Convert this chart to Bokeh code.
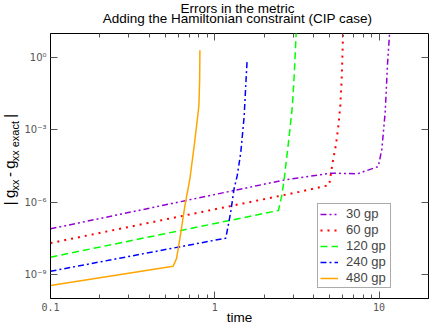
import numpy as np
from bokeh.plotting import figure
from bokeh.layouts import column, row
from bokeh.models import LogAxis, FixedTicker, CustomJSTickFormatter
from bokeh.core.properties import value
from bokeh.embed import file_html
from bokeh.resources import INLINE

# ---------------- data ----------------
series_labels = ["30 gp", "60 gp", "120 gp", "240 gp", "480 gp"]

time_30 = [0.1, 2.65, 5.1, 7.38, 9.9, 10.4, 10.9, 11.27, 11.6, 11.7]
err_30 = [7.8e-8, 8.3e-6, 1.6e-5, 1.5e-5, 3.0e-5, 1.6e-4, 5.4e-3, 0.60, 10.7, 30.0]

time_60 = [0.1, 3.22, 4.97, 5.22, 5.47, 5.65, 5.81, 5.92, 6.0, 6.06]
err_60 = [2.0e-8, 2.6e-6, 5.1e-6, 4.5e-5, 2.5e-4, 1.4e-3, 9.8e-3, 0.12, 2.1, 30.0]

time_120 = [0.1, 2.44, 2.56, 2.65, 2.81, 2.97, 3.05, 3.11, 3.15]
err_120 = [5.2e-9, 4.5e-7, 1.9e-6, 1.0e-5, 3.0e-4, 9.8e-3, 0.23, 4.1, 30.0]

time_240 = [0.1, 1.167, 1.25, 1.31, 1.37, 1.44, 1.51, 1.55, 1.575]
err_240 = [1.35e-9, 3.2e-8, 3.8e-7, 3.5e-6, 1.26e-5, 1.15e-4, 3.7e-3, 0.12, 0.83]

time_480 = [0.1, 0.558, 0.585, 0.613, 0.658, 0.705, 0.745, 0.779, 0.800, 0.809, 0.812]
err_480 = [3.5e-10, 2.2e-9, 4.5e-9, 3.0e-8, 7.2e-7, 9.1e-6, 1.6e-4, 2.0e-3, 9.8e-3, 0.12, 2.0]

x_ticks = [0.1, 1, 10]
x_tick_labels = ["0.1", "1", "10"]
x_minor = [0.2, 0.3, 0.4, 0.5, 0.6, 0.7, 0.8, 0.9, 2, 3, 4, 5, 6, 7, 8, 9]
y_ticks = [1e-9, 1e-6, 1e-3, 1.0]
y_tick_labels = ["10\u207b\u2079", "10\u207b\u2076", "10\u207b\u00b3", "10\u2070"]

title_lines = ["Errors in the metric", "Adding the Hamiltonian constraint (CIP case)"]
x_label = "time"
y_label_pieces = ["|", "g", "xx", "-", "g", "xx exact", "|"]

FONT = "Liberation Sans"
MID = 0.3465   # (ascent - descent) / 2, in em, for Liberation Sans

# ---------------- helper: plain text strip ----------------
def text_fig(w, h):
    f = figure(width=w, height=h, x_range=(0, w), y_range=(0, h),
               output_backend="svg", toolbar_location=None, min_border=0,
               x_axis_location=None, y_axis_location=None,
               background_fill_color="white", border_fill_color="white")
    f.outline_line_color = None
    f.xgrid.visible = False
    f.ygrid.visible = False
    return f

# ---------------- title strip (430 x 33) ----------------
TS = 13.5
top_fig = text_fig(430, 33)
baselines = [12.5, 23.0]               # page y of the two title baselines
top_fig.text(x=[237, 237], y=[33 - (b - MID * TS) for b in baselines], text=title_lines,
             text_font=value(FONT), text_font_size=value(f"{TS}px"),
             text_align=value("center"), text_baseline=value("middle"),
             text_color="black")

# ---------------- main plot (409 x 294) ----------------
p = figure(width=409, height=294,
           x_axis_type="log", y_axis_type="log",
           x_range=(0.1, 20), y_range=(1e-10, 10),
           output_backend="svg", toolbar_location=None,
           min_border_left=25, min_border_right=2,
           min_border_top=0, min_border_bottom=27,
           background_fill_color="white", border_fill_color="white")
p.xgrid.visible = False
p.ygrid.visible = False
p.outline_line_color = "black"
p.outline_line_width = 1

tick_col = "#555555"
lab_col = "#555555"

xfmt = CustomJSTickFormatter(args=dict(tv=x_ticks, tl=x_tick_labels), code="""
const i = tv.findIndex(v => Math.abs(Math.log10(v) - Math.log10(tick)) < 1e-6);
return i < 0 ? "" : tl[i];
""")
yfmt = CustomJSTickFormatter(args=dict(tv=y_ticks, tl=y_tick_labels), code="""
const i = tv.findIndex(v => Math.abs(Math.log10(v) - Math.log10(tick)) < 1e-6);
return i < 0 ? "" : tl[i];
""")
blank = CustomJSTickFormatter(code='return "";')

xa = p.xaxis[0]
xa.ticker = FixedTicker(ticks=x_ticks, minor_ticks=x_minor)
xa.formatter = xfmt
ya = p.yaxis[0]
ya.ticker = FixedTicker(ticks=y_ticks, minor_ticks=[])
ya.formatter = yfmt

for ax in (xa, ya):
    ax.axis_line_color = "black"
    ax.major_tick_in = 7
    ax.major_tick_out = 0
    ax.minor_tick_in = 4
    ax.minor_tick_out = 0
    ax.major_tick_line_color = tick_col
    ax.minor_tick_line_color = tick_col
    ax.major_label_text_color = lab_col
    ax.major_label_text_font_size = "10px"
    ax.major_label_standoff = 4

xa.major_label_text_font = "DejaVu Sans Mono"
ya.major_label_text_font = "DejaVu Sans"
xa.axis_label = x_label
xa.axis_label_text_font = FONT
xa.axis_label_text_font_size = "13.5px"
xa.axis_label_text_font_style = "normal"
xa.axis_label_text_color = "black"
xa.axis_label_standoff = -4

# mirrored ticks on top and right
top = LogAxis(ticker=FixedTicker(ticks=x_ticks, minor_ticks=x_minor), formatter=blank)
right = LogAxis(ticker=FixedTicker(ticks=y_ticks, minor_ticks=[]), formatter=blank)
for ax in (top, right):
    ax.axis_line_color = None
    ax.major_tick_in = 7
    ax.major_tick_out = 0
    ax.minor_tick_in = 4
    ax.minor_tick_out = 0
    ax.major_tick_line_color = tick_col
    ax.minor_tick_line_color = tick_col
    ax.major_label_text_font_size = "0px"
    ax.major_label_standoff = 0
p.add_layout(top, "above")
p.add_layout(right, "right")

# ---------------- curves ----------------
p.line(time_30, err_30, color="#9400D3", line_width=1.5,
       line_dash="6 3 2 3 2 3", legend_label=series_labels[0])
p.line(time_60, err_60, color="#FF0000", line_width=2,
       line_dash="2 5", legend_label=series_labels[1])
p.line(time_120, err_120, color="#00FF00", line_width=1.5,
       line_dash="7 4", legend_label=series_labels[2])
p.line(time_240, err_240, color="#0000FF", line_width=1.5,
       line_dash="6 3 2 3", legend_label=series_labels[3])
p.line(time_480, err_480, color="#FFA500", line_width=1.5,
       legend_label=series_labels[4])

# ---------------- legend ----------------
lg = p.legend[0]
lg.location = (267, 10)
lg.margin = 0
lg.padding = 2
lg.spacing = 1
lg.glyph_width = 18
lg.glyph_height = 14
lg.label_height = 14
lg.label_width = 42
lg.label_standoff = 8
lg.label_text_font = FONT
lg.label_text_font_size = "13px"
lg.label_text_baseline = "middle"
lg.border_line_color = "#555555"
lg.border_line_width = 1
lg.background_fill_color = "white"
lg.background_fill_alpha = 1.0

# ---------------- y-label strip (21 x 294) ----------------
left_fig = text_fig(21, 294)
em = {'|': 0.26, ' ': 0.278, 'g': 0.556, 'x': 0.5, '-': 0.333,
      'e': 0.556, 'a': 0.556, 'c': 0.5, 't': 0.278}
def tw(s, size):
    return sum(em[c] for c in s) * size

sizes = [15, 15, 11, 15, 15, 11, 15]
centres = [9, 9, 14, 9, 9, 14, 9]      # page x of each piece's text middle line
gaps_after = [4, 0, 4, 4, 0, 8, 0]     # extra space after each piece (px)
total = sum(tw(s, f) for s, f in zip(y_label_pieces, sizes)) + sum(gaps_after)
pos = (327 - 173) - total / 2          # data y of label start (page y centre 173)
for s, f, xc, g in zip(y_label_pieces, sizes, centres, gaps_after):
    left_fig.text(x=[xc], y=[pos], text=[s], angle=np.pi / 2,
                  text_font=value(FONT), text_font_size=value(f"{f}px"),
                  text_align=value("left"), text_baseline=value("middle"),
                  text_color="black")
    pos += tw(s, f) + g

layout = column(top_fig, row(left_fig, p))
open("out.html", "w").write(file_html(layout, INLINE))
